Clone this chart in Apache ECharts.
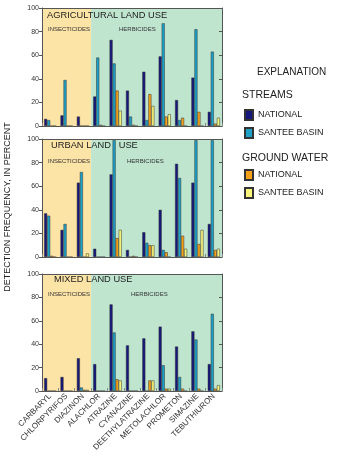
<!DOCTYPE html>
<html>
<head>
<meta charset="utf-8">
<script src="https://cdn.jsdelivr.net/npm/echarts@6/dist/echarts.min.js"></script>
<style>
html,body{margin:0;padding:0;background:#fff;}
#chart{width:340px;height:468px;}
</style>
</head>
<body>
<div id="chart"></div>
<script>
var categories = ['CARBARYL','CHLORPYRIFOS','DIAZINON','ALACHLOR','ATRAZINE','CYANAZINE','DEETHYLATRAZINE','METOLACHLOR','PROMETON','SIMAZINE','TEBUTHIURON'];
var yTicks = [0, 20, 40, 60, 80, 100];

var agStreamNational = [6, 9, 8, 25, 73, 30, 46, 59, 22, 41, 12];
var agStreamSantee   = [5, 39, 0, 58, 53, 8, 5, 87, 5, 82, 63];
var agGwNational     = [0, 0, 0, 1, 30, 1, 27, 8, 7, 12, 2];
var agGwSantee       = [0, 0, 0, 0, 13, 0, 17, 10, 0, 0, 7];

var urStreamNational = [37, 23, 63, 7, 70, 6, 21, 40, 79, 63, 28];
var urStreamSantee   = [35, 28, 72, 0, 99, 0, 12, 6, 67, 99, 99];
var urGwNational     = [1, 0, 0, 0, 16, 1, 10, 4, 18, 11, 6];
var urGwSantee       = [0, 0, 3, 0, 23, 0, 10, 0, 7, 23, 7];

var mxStreamNational = [11, 12, 28, 23, 74, 39, 45, 55, 38, 51, 23];
var mxStreamSantee   = [0, 0, 3, 0, 50, 0, 0, 22, 12, 44, 66];
var mxGwNational     = [0, 0, 1, 0, 10, 0, 9, 2, 2, 2, 2];
var mxGwSantee       = [0, 0, 1, 0, 9, 0, 9, 2, 0, 0, 5];

var panelTitles = ['AGRICULTURAL LAND USE', 'URBAN LAND   USE', 'MIXED LAND USE'];
var groupLabels = ['INSECTICIDES', 'HERBICIDES'];
var nInsecticides = 3;

var FONT = '"Liberation Sans", Arial, Helvetica, sans-serif';
var C_NAVY = '#17197a', C_TEAL = '#1da0c6', C_ORANGE = '#f6a01a', C_YELLOW = '#f8f57a';
var C_BEIGE = '#fce3a6', C_GREEN = '#bfe5cf';
var AXIS = '#555';

var panels = [
  [agStreamNational, agStreamSantee, agGwNational, agGwSantee],
  [urStreamNational, urStreamSantee, urGwNational, urGwSantee],
  [mxStreamNational, mxStreamSantee, mxGwNational, mxGwSantee]
];
var seriesNames = ['STREAMS NATIONAL','STREAMS SANTEE BASIN','GROUND WATER NATIONAL','GROUND WATER SANTEE BASIN'];
var seriesColors = [C_NAVY, C_TEAL, C_ORANGE, C_YELLOW];

var gridTops = [8, 139, 274];
var gridHeights = [118, 118, 117];
var gridLeft = 42, gridWidth = 180;

var grids = [], xAxes = [], yAxes = [], series = [], graphics = [];

for (var p = 0; p < 3; p++) {
  grids.push({left: gridLeft, top: gridTops[p], width: gridWidth, height: gridHeights[p], containLabel: false});
}
for (var p = 0; p < 3; p++) {
  xAxes.push({
    type: 'category', gridIndex: p, data: categories, position: 'bottom',
    boundaryGap: true,
    axisLine: {show: true, lineStyle: {color: AXIS, width: 1}},
    axisTick: {show: true, inside: true, length: 3, lineStyle: {color: '#888'}},
    axisLabel: p === 2 ? {show: true, rotate: 45, fontSize: 8, color: '#333', fontFamily: FONT, margin: 4, interval: 0} : {show: false},
    z: 5
  });
}
for (var p = 0; p < 3; p++) {
  xAxes.push({
    type: 'value', gridIndex: p, min: 0, max: categories.length, position: 'top',
    axisLine: {show: true, onZero: false, lineStyle: {color: AXIS, width: 1}},
    axisTick: {show: false}, axisLabel: {show: false}, splitLine: {show: false}, z: 5
  });
}
for (var p = 0; p < 3; p++) {
  yAxes.push({
    type: 'value', gridIndex: p, min: yTicks[0], max: yTicks[yTicks.length - 1], interval: 20, position: 'left',
    axisLine: {show: true, lineStyle: {color: AXIS, width: 1}},
    axisTick: {show: true, length: 3, lineStyle: {color: AXIS}},
    axisLabel: {fontSize: 7, color: '#333', fontFamily: FONT, margin: 3},
    splitLine: {show: false}, z: 5
  });
}
for (var p = 0; p < 3; p++) {
  yAxes.push({
    type: 'value', gridIndex: p, min: yTicks[0], max: yTicks[yTicks.length - 1], interval: 20, position: 'right',
    axisLine: {show: true, lineStyle: {color: AXIS, width: 1}},
    axisTick: {show: true, inside: true, length: 3, lineStyle: {color: AXIS}},
    axisLabel: {show: false}, splitLine: {show: false}, z: 5
  });
}

for (var p = 0; p < 3; p++) {
  series.push({
    type: 'line', xAxisIndex: 3 + p, yAxisIndex: p, data: [], silent: true, z: 1,
    markArea: {
      silent: true,
      data: [
        [{xAxis: 0, itemStyle: {color: C_BEIGE}}, {xAxis: nInsecticides}],
        [{xAxis: nInsecticides, itemStyle: {color: C_GREEN}}, {xAxis: categories.length}]
      ]
    }
  });
  for (var s = 0; s < 4; s++) {
    series.push({
      type: 'bar', name: seriesNames[s], xAxisIndex: p, yAxisIndex: p,
      data: panels[p][s], barGap: '0%', barCategoryGap: '26%', z: 3,
      itemStyle: {color: seriesColors[s], borderColor: '#333', borderWidth: 0.5},
      emphasis: {disabled: true}
    });
  }
}

var titleY = [15, 145, 279];
var titleX = [47, 51, 54];
var groupY = [29, 161, 294];
var herbX = [119, 127, 131];
for (var p = 0; p < 3; p++) {
  graphics.push({type: 'text', x: titleX[p], y: titleY[p], z: 10,
    style: {text: panelTitles[p], fontSize: 9.3, fontFamily: FONT, fill: '#222', verticalAlign: 'middle'}});
  graphics.push({type: 'text', x: 48, y: groupY[p], z: 10,
    style: {text: groupLabels[0], fontSize: 6, fontFamily: FONT, fill: '#333', verticalAlign: 'middle'}});
  graphics.push({type: 'text', x: herbX[p], y: groupY[p], z: 10,
    style: {text: groupLabels[1], fontSize: 6, fontFamily: FONT, fill: '#333', verticalAlign: 'middle'}});
}
graphics.push({type: 'text', x: 8, y: 207, rotation: Math.PI / 2, z: 10,
  style: {text: 'DETECTION FREQUENCY, IN PERCENT', fontSize: 9, fontFamily: FONT, fill: '#222', align: 'center', verticalAlign: 'middle'}});
graphics.push({type: 'text', x: 257, y: 72, z: 10,
  style: {text: 'EXPLANATION', fontSize: 10, fontFamily: FONT, fill: '#222', verticalAlign: 'middle'}});
graphics.push({type: 'text', x: 242, y: 95, z: 10,
  style: {text: 'STREAMS', fontSize: 10.5, fontFamily: FONT, fill: '#222', verticalAlign: 'middle'}});
graphics.push({type: 'text', x: 242, y: 158, z: 10,
  style: {text: 'GROUND WATER', fontSize: 10.5, fontFamily: FONT, fill: '#222', verticalAlign: 'middle'}});

function legendFormatter(name) {
  return name.replace('STREAMS ', '').replace('GROUND WATER ', '');
}

var option = {
  animation: false,
  backgroundColor: '#fff',
  grid: grids,
  xAxis: xAxes,
  yAxis: yAxes,
  series: series,
  graphic: graphics,
  legend: [
    {data: [seriesNames[0], seriesNames[1]], orient: 'vertical', left: 244, top: 109, padding: 0,
     itemWidth: 8, itemHeight: 10, itemGap: 6, icon: 'rect', selectedMode: false, formatter: legendFormatter,
     textStyle: {fontSize: 9, fontFamily: FONT, color: '#222'}},
    {data: [seriesNames[2], seriesNames[3]], orient: 'vertical', left: 244, top: 169, padding: 0,
     itemWidth: 8, itemHeight: 10, itemGap: 6, icon: 'rect', selectedMode: false, formatter: legendFormatter,
     textStyle: {fontSize: 9, fontFamily: FONT, color: '#222'}}
  ]
};

var chart = echarts.init(document.getElementById('chart'), null, {renderer: 'canvas'});
chart.setOption(option);
</script>
</body>
</html>
